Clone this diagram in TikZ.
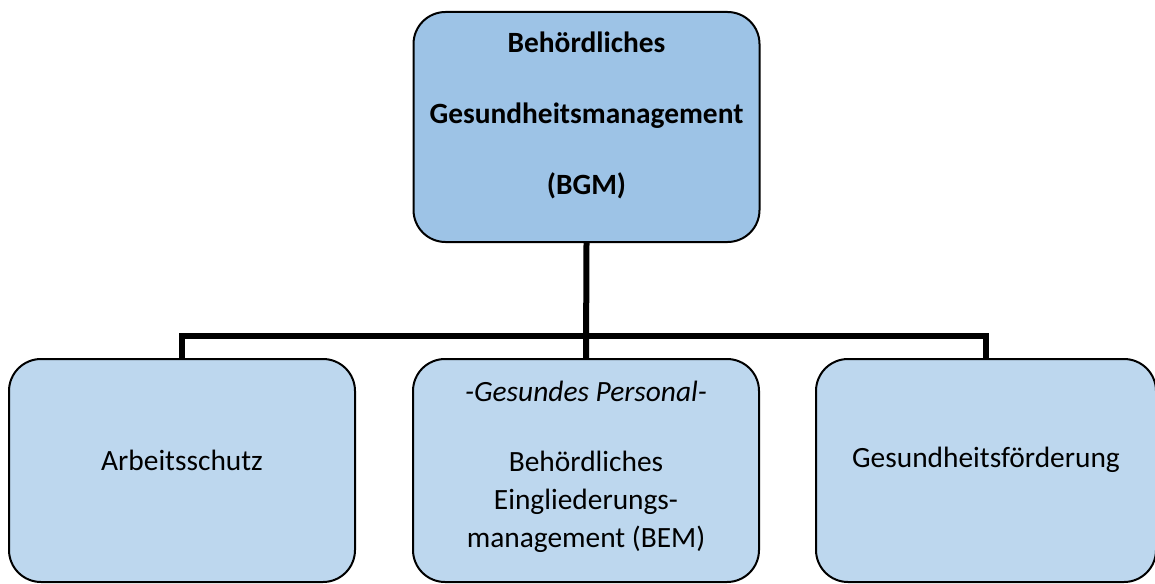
\documentclass[tikz,border=0pt]{standalone}
\usepackage{fontspec}
\setmainfont{Carlito}
\usetikzlibrary{positioning}

\definecolor{bgmblue}{HTML}{9DC3E6}
\definecolor{partblue}{HTML}{BDD7EE}

\tikzset{
  orgbox/.style={draw, line width=1pt, rounded corners=16pt, align=center,
    font=\fontsize{14.7}{19}\selectfont, minimum width=173pt, inner sep=0pt},
  topbox/.style={orgbox, fill=bgmblue, minimum height=115pt},
  partbox/.style={orgbox, fill=partblue, minimum height=111.5pt},
  lift/.style={text depth=#1},
  link/.style={line width=3pt, line join=miter},
}

\begin{document}
\begin{tikzpicture}[x=0.5pt, y=-0.5pt]
\useasboundingbox (0,0) rectangle (1155,583);
% top of the tree
\node[topbox, lift=14pt, font=\fontsize{14.7}{19}\selectfont\bfseries] (bgm) at (586.5,127)
  {Behördliches\\[16.5pt] Gesundheitsmanagement\\[16.5pt] (BGM)};
% the three parts
\node[partbox, lift=10pt] (arbeit) at (182,470.5) {Arbeitsschutz};
\node[partbox, lift=6pt] (bem) at (586,470.5)
  {\textit{-Gesundes Personal-}\\[16pt] Behördliches\\ Eingliederungs-\\ management (BEM)};
\node[partbox, lift=13pt, minimum width=170pt] (foerder) at (986,470.5) {Gesundheitsförderung};
% connectors
\coordinate (bar) at (586,336);
\draw[link] (bgm.south) -- (bem.north);
\draw[link] (arbeit.north) |- (bar) -| (foerder.north);
\end{tikzpicture}
\end{document}
